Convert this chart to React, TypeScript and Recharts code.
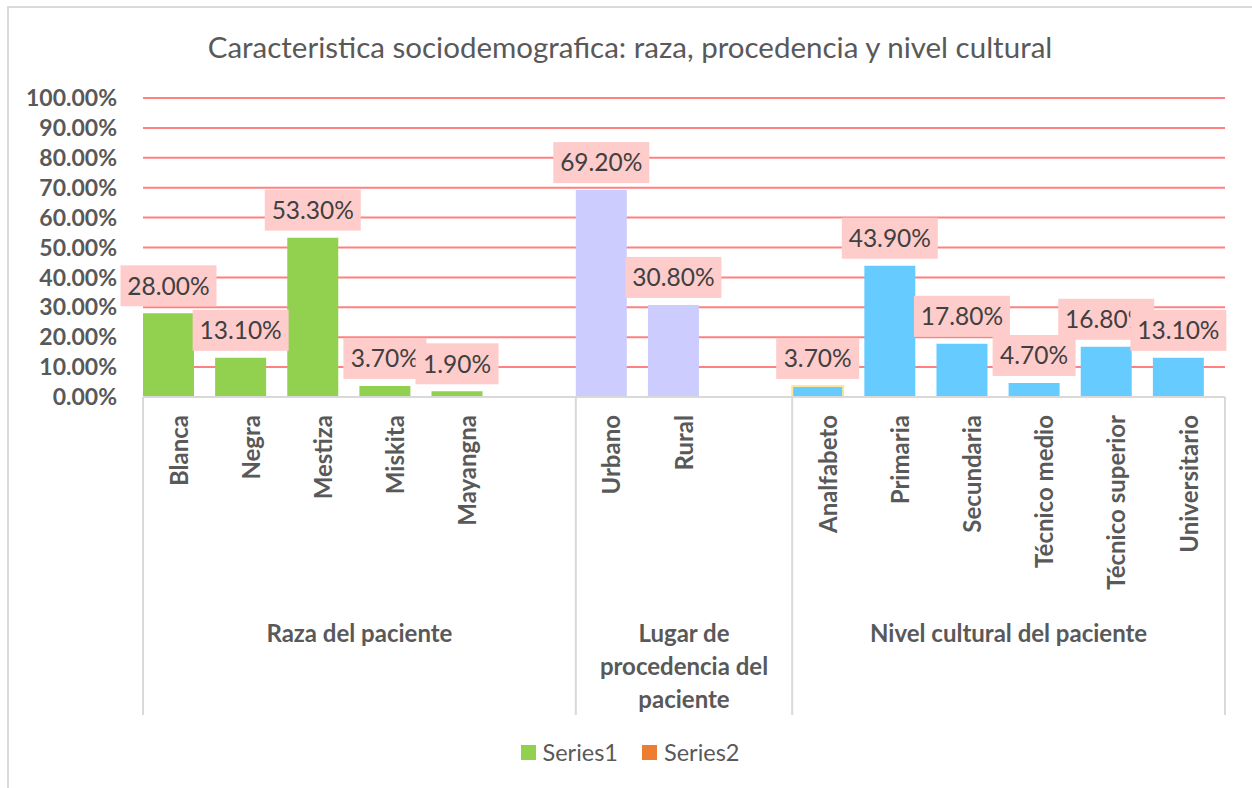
import React from "react";
import {
  BarChart,
  Bar,
  XAxis,
  YAxis,
  CartesianGrid,
  Legend,
  Cell,
  LabelList,
} from "recharts";

const categories = [
  "Blanca",
  "Negra",
  "Mestiza",
  "Miskita",
  "Mayangna",
  "",
  "Urbano",
  "Rural",
  "",
  "Analfabeto",
  "Primaria",
  "Secundaria",
  "Técnico medio",
  "Técnico superior",
  "Universitario",
];
const series1 = [
  0.28, 0.131, 0.533, 0.037, 0.019, null, 0.692, 0.308, null, 0.037, 0.439,
  0.178, 0.047, 0.168, 0.131,
];
const series2 = categories.map(() => null);
const groups = [
  "Raza del paciente",
  "Lugar de procedencia del paciente",
  "Nivel cultural del paciente",
];
const groupSizes = [6, 3, 6];
const groupColors = ["#92d050", "#ccccff", "#66ccff"];
const seriesNames = ["Series1", "Series2"];
const seriesColors = ["#92d050", "#ed7d31"];
const yTicks = [0, 0.1, 0.2, 0.3, 0.4, 0.5, 0.6, 0.7, 0.8, 0.9, 1];
const title =
  "Caracteristica sociodemografica: raza, procedencia y nivel cultural";

const W = 1252;
const H = 788;
const PLOT_LEFT = 143;
const PLOT_RIGHT = 1225;
const FONT = "Lato, 'Open Sans', sans-serif";
const TEXT = "#595959";
const bandW = (PLOT_RIGHT - PLOT_LEFT) / categories.length;

const data = categories.map((name, i) => ({
  name,
  s1: series1[i],
  s2: series2[i],
}));

const groupStarts: number[] = [];
const groupOf: number[] = [];
groupSizes.reduce((start, size, g) => {
  groupStarts.push(start);
  for (let k = 0; k < size; k++) groupOf.push(g);
  return start + size;
}, 0);

const wrap = (text: string, maxChars: number) => {
  const lines: string[] = [];
  let cur = "";
  text.split(" ").forEach((w) => {
    const next = cur ? cur + " " + w : w;
    if (next.length > maxChars && cur) {
      lines.push(cur);
      cur = w;
    } else cur = next;
  });
  if (cur) lines.push(cur);
  return lines;
};

const CategoryTick = (props: any) => {
  const { x, y, payload } = props;
  const i = payload.index ?? props.index;
  const g = groupOf[i];
  const ty = y + 18;
  const lineStyle = { stroke: "#d9d9d9", strokeWidth: 2 };
  const gx = x - bandW / 2 + (groupSizes[g] * bandW) / 2;
  return (
    <g>
      <text
        x={x}
        y={ty}
        transform={`rotate(-90 ${x} ${ty})`}
        textAnchor="end"
        dy="0.36em"
        fill={TEXT}
        fontFamily={FONT}
        fontSize={24}
        fontWeight="bold"
      >
        {payload.value}
      </text>
      {groupStarts[g] === i && (
        <g>
          <line x1={x - bandW / 2} x2={x - bandW / 2} y1={y} y2={y + 318} {...lineStyle} />
          <text
            x={gx}
            y={y + 236}
            textAnchor="middle"
            fill={TEXT}
            fontFamily={FONT}
            fontSize={24}
            fontWeight="bold"
          >
            {wrap(groups[g], Math.floor((groupSizes[g] * bandW) / 11.2)).map(
              (line, k) => (
                <tspan key={k} x={gx} dy={k === 0 ? "0.36em" : 33}>
                  {line}
                </tspan>
              )
            )}
          </text>
        </g>
      )}
      {i === categories.length - 1 && (
        <line x1={x + bandW / 2} x2={x + bandW / 2} y1={y} y2={y + 318} {...lineStyle} />
      )}
    </g>
  );
};

const ValueLabel = (props: any) => {
  const { x, y, width, value } = props;
  if (value == null) return null;
  const text = (value * 100).toFixed(2) + "%";
  const cx = x + width / 2;
  const boxW = text.length * 13 + 18;
  const boxH = 41;
  const top = y - 7 - boxH;
  return (
    <g>
      <rect x={cx - boxW / 2} y={top} width={boxW} height={boxH} fill="#ffcccc" />
      <text
        x={cx}
        y={top + boxH / 2}
        dy="0.36em"
        textAnchor="middle"
        fill="#404040"
        fontFamily={FONT}
        fontSize={24.5}
      >
        {text}
      </text>
    </g>
  );
};

const LegendContent = () => (
  <div
    style={{
      display: "flex",
      justifyContent: "center",
      alignItems: "center",
      height: 30,
      fontFamily: FONT,
      fontSize: 23.5,
      color: TEXT,
      paddingLeft: 8,
    }}
  >
    {seriesNames.map((name, i) => (
      <div key={name} style={{ display: "flex", alignItems: "center", marginRight: i === 0 ? 24 : 0 }}>
        <span style={{ width: 15, height: 15, background: seriesColors[i], marginRight: 7 }} />
        <span>{name}</span>
      </div>
    ))}
  </div>
);

export default function App() {
  return (
    <div style={{ position: "relative", width: W, height: H, overflow: "hidden", background: "#fff" }}>
      <style>{`body{margin:0}`}</style>
      <div
        style={{
          position: "absolute",
          left: 7,
          top: 6,
          width: 1300,
          height: 850,
          border: "2px solid #d9d9d9",
          boxSizing: "border-box",
        }}
      />
      <div
        style={{
          position: "absolute",
          left: 7,
          top: 29,
          width: 1246,
          textAlign: "center",
          fontFamily: FONT,
          fontSize: 29.5,
          color: TEXT,
        }}
      >
        {title}
      </div>
      <BarChart
        width={W}
        height={H}
        data={data}
        margin={{ top: 98, right: W - PLOT_RIGHT, left: 0, bottom: 21 }}
        barGap={0}
        style={{ position: "absolute", left: 0, top: 0 }}
      >
        <CartesianGrid vertical={false} stroke="#ff8080" strokeWidth={2} />
        <YAxis
          width={PLOT_LEFT}
          domain={[0, 1]}
          ticks={yTicks}
          interval={0}
          axisLine={false}
          tickLine={false}
          tickSize={0}
          tickMargin={26}
          tickFormatter={(v: number) => (v * 100).toFixed(2) + "%"}
          tick={{ fill: TEXT, fontSize: 23, fontWeight: "bold", fontFamily: FONT }}
        />
        <XAxis
          dataKey="name"
          height={340}
          interval={0}
          tickLine={false}
          tickSize={0}
          tickMargin={0}
          axisLine={{ stroke: "#d9d9d9", strokeWidth: 2 }}
          tick={<CategoryTick />}
        />
        <Legend
          verticalAlign="bottom"
          height={30}
          content={<LegendContent />}
          wrapperStyle={{ left: 0, width: W }}
        />
        <Bar dataKey="s1" name={seriesNames[0]} fill={seriesColors[0]} barSize={51} isAnimationActive={false}>
          {data.map((d, i) => (
            <Cell
              key={i}
              fill={groupColors[groupOf[i]]}
              stroke={d.name === "Analfabeto" ? "#ffe699" : "none"}
              strokeWidth={2}
            />
          ))}
          <LabelList dataKey="s1" content={<ValueLabel />} />
        </Bar>
        <Bar dataKey="s2" name={seriesNames[1]} fill={seriesColors[1]} barSize={21} isAnimationActive={false} />
      </BarChart>
    </div>
  );
}
